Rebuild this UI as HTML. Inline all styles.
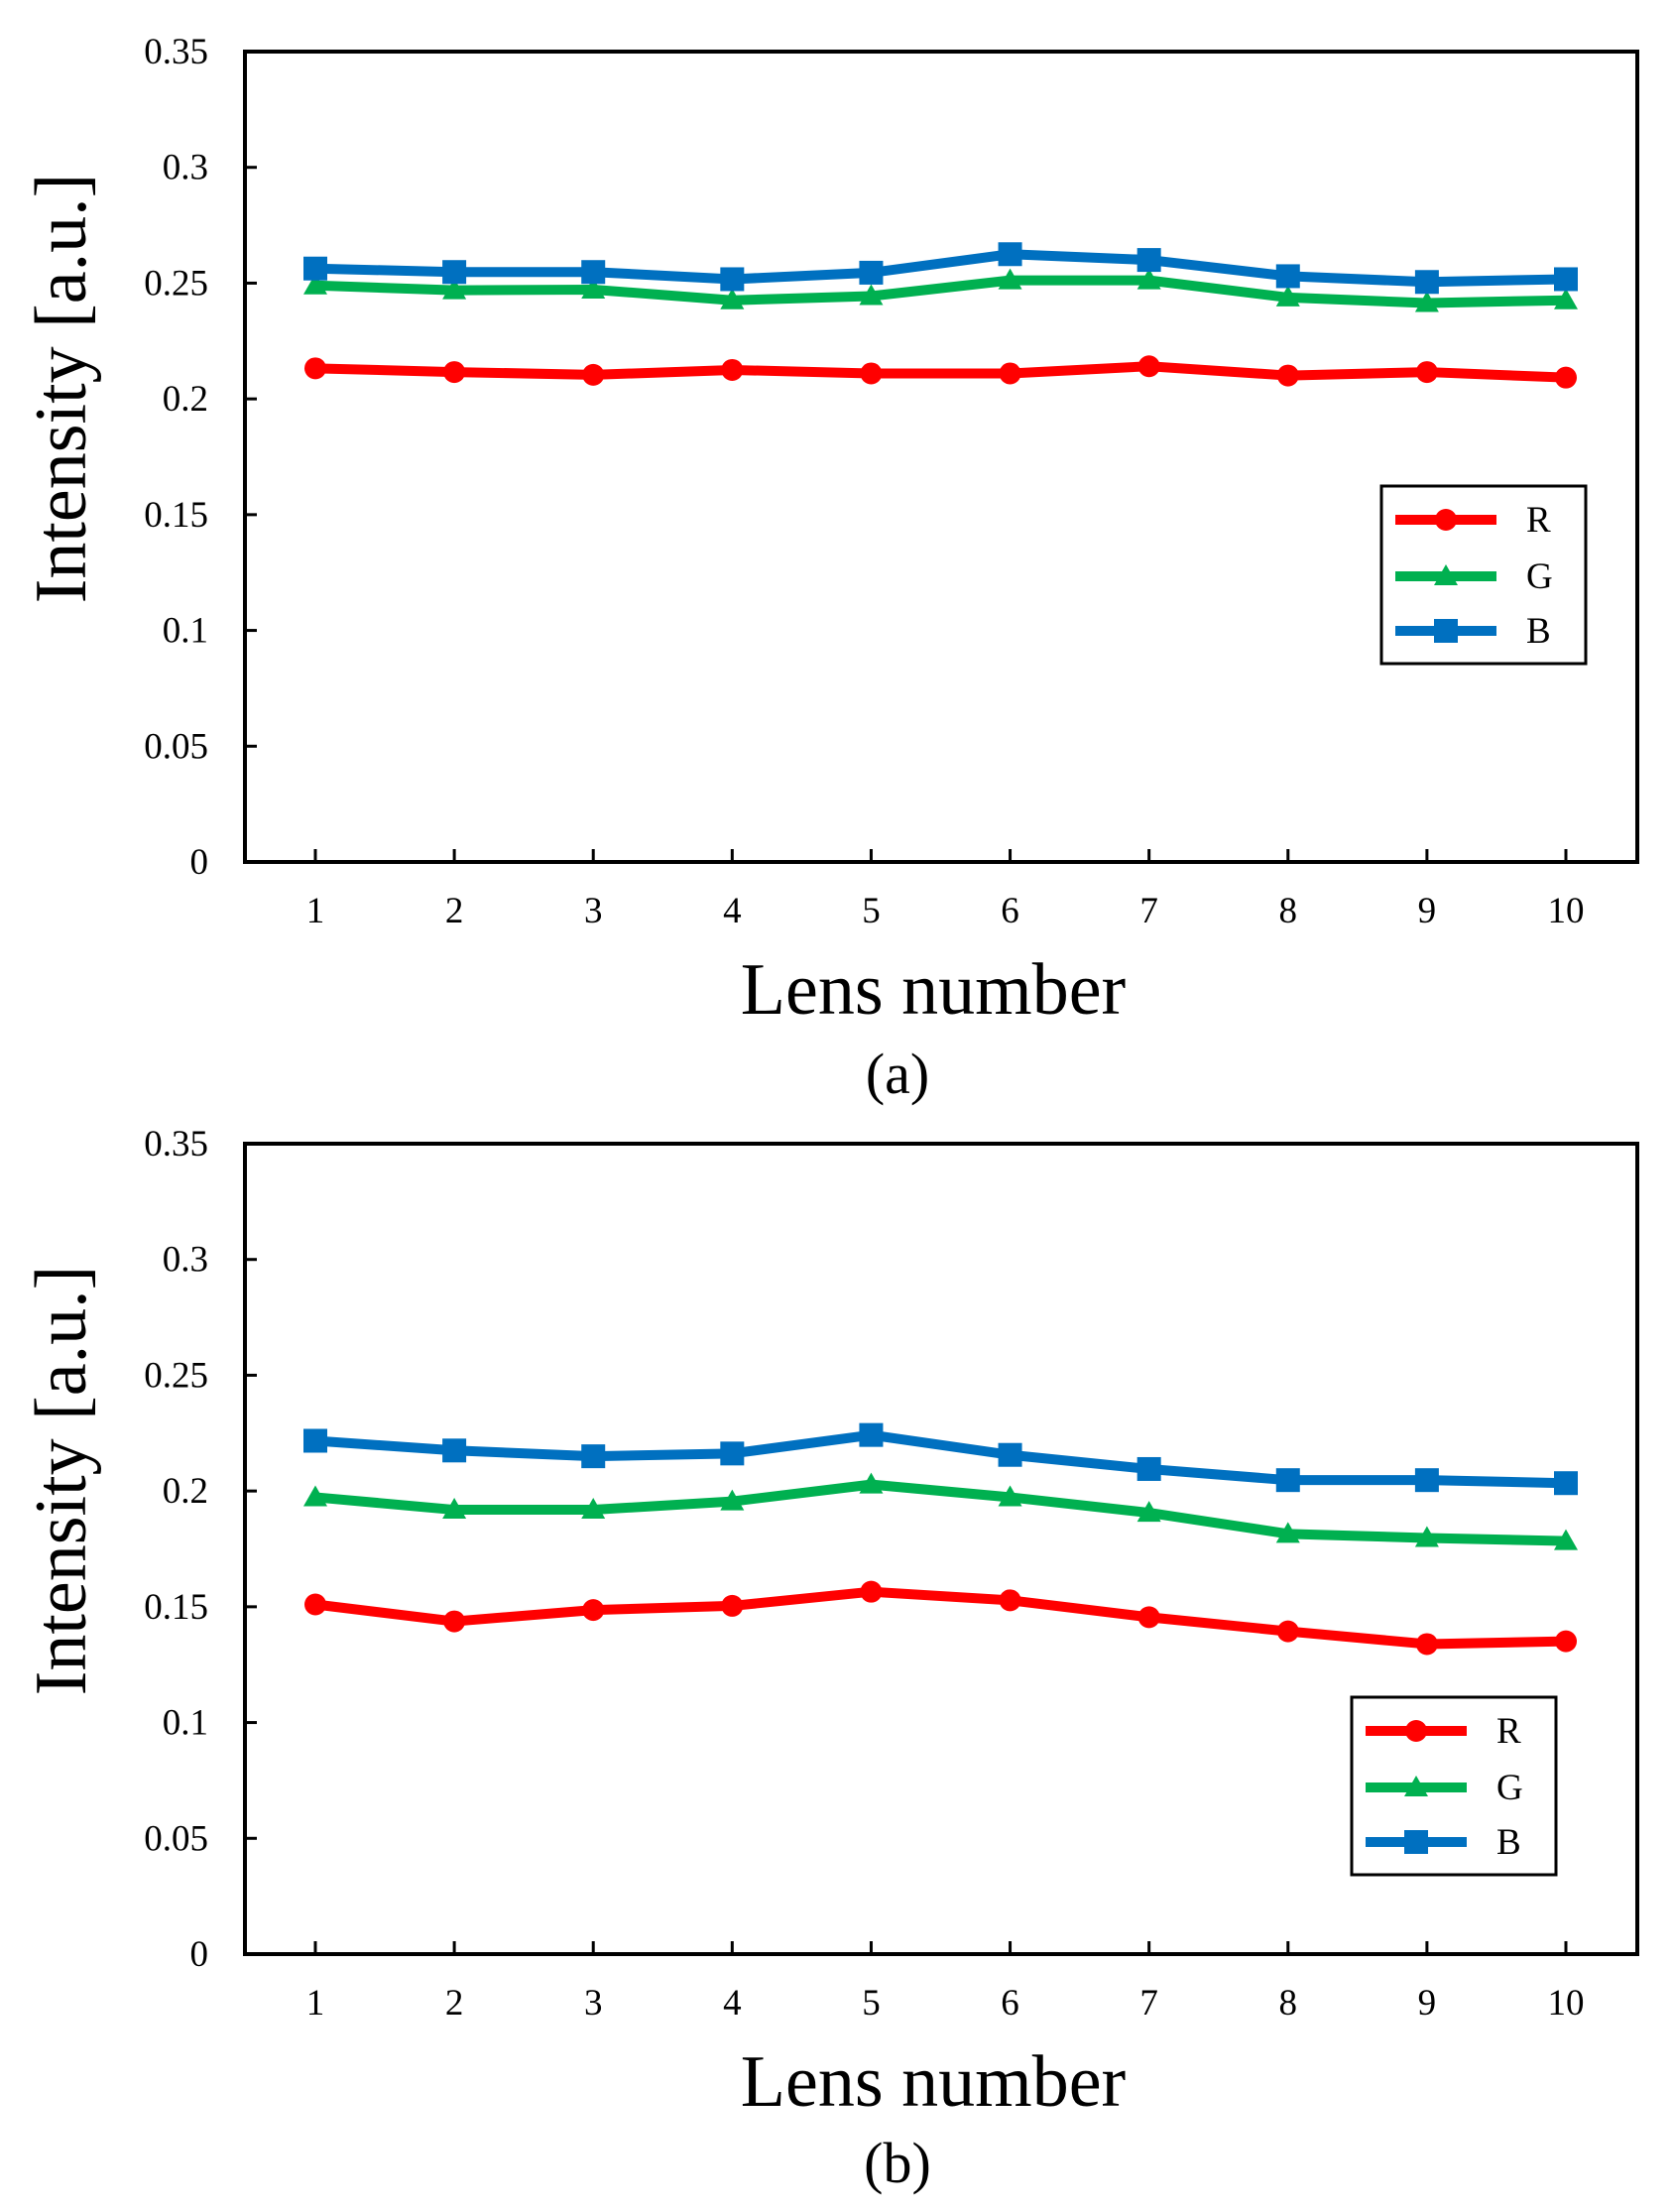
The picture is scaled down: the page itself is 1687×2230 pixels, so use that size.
<!DOCTYPE html>
<html><head><meta charset="utf-8"><style>
html,body{margin:0;padding:0;background:#fff}
svg{display:block}
text{font-family:"Liberation Serif",serif;fill:#000}
</style></head><body>
<svg id="s" width="1687" height="2230" viewBox="0 0 1687 2230" xmlns="http://www.w3.org/2000/svg"></svg>
<script>
const categories=[1,2,3,4,5,6,7,8,9,10];
const yTicks=[0,0.05,0.1,0.15,0.2,0.25,0.3,0.35];
const yTickLabels=["0","0.05","0.1","0.15","0.2","0.25","0.3","0.35"];
const aR=[0.2132,0.2116,0.2104,0.2125,0.2110,0.2110,0.2141,0.2101,0.2116,0.2092];
const aG=[0.2490,0.2469,0.2472,0.2426,0.2444,0.2512,0.2512,0.2438,0.2414,0.2426];
const aB=[0.2563,0.2548,0.2548,0.2517,0.2545,0.2625,0.2600,0.2530,0.2505,0.2517];
const bR=[0.1510,0.1437,0.1486,0.1504,0.1565,0.1528,0.1455,0.1394,0.1339,0.1351];
const bG=[0.1973,0.1919,0.1919,0.1955,0.2028,0.1973,0.1906,0.1815,0.1797,0.1784];
const bB=[0.2217,0.2175,0.2150,0.2162,0.2242,0.2156,0.2095,0.2047,0.2047,0.2034];
const seriesNames=["R","G","B"];
const NS="http://www.w3.org/2000/svg";
const svg=document.getElementById('s');
function mk(tag,attrs,parent){const e=document.createElementNS(NS,tag);for(const k in attrs)e.setAttribute(k,attrs[k]);(parent||svg).appendChild(e);return e;}
const colors=["#ff0000","#00b050","#0070c0"];
function marker(g,kind,x,y,c){
  let m;
  if(kind==="R") m=mk('circle',{cx:x,cy:y,r:11,fill:c},g);
  else if(kind==="G") m=mk('polygon',{points:`${x},${y-12} ${x+12},${y+9} ${x-12},${y+9}`,fill:c},g);
  else m=mk('rect',{x:x-12,y:y-12,width:24,height:24,fill:c},g);
  return m;
}
function chart(id,top,bottom,data,legX,legY,xTitleY,capY,cap){
  const left=247,right=1651;
  const X=i=>318+(1579-318)*(i-1)/9;
  const Y=v=>bottom-(bottom-top)*v/0.35;
  const g=mk('g',{});
  
  
  yTicks.forEach((t,i)=>{
    const y=Y(t);
    const tk=mk('line',{x1:left,x2:left+12,y1:y,y2:y,stroke:'#000','stroke-width':3},g);
    
    
    const tl=mk('text',{x:210,y:y+12,'text-anchor':'end','font-size':37},g);
    tl.textContent=yTickLabels[i];
    
    
  });
  categories.forEach(c=>{
    const x=X(c);
    const tk=mk('line',{x1:x,x2:x,y1:bottom,y2:bottom-13,stroke:'#000','stroke-width':3},g);
    
    
    const tl=mk('text',{x:x,y:bottom+61,'text-anchor':'middle','font-size':37},g);
    tl.textContent=String(c);
    
    
  });
  const fr=mk('rect',{x:left,y:top,width:right-left,height:bottom-top,fill:'none',stroke:'#000','stroke-width':4},g);
  
  
  data.forEach((vals,si)=>{
    const sg=mk('g',{},g);
    
    
    const pts=vals.map((v,i)=>X(categories[i])+','+Y(v)).join(' ');
    const pl=mk('polyline',{points:pts,fill:'none',stroke:colors[si],'stroke-width':10,'stroke-linejoin':'round'},sg);
    
    
    vals.forEach((v,i)=>{
      const m=marker(sg,seriesNames[si],X(categories[i]),Y(v),colors[si]);
      
      
    });
  });
  const lg=mk('g',{},g);
  
  
  mk('rect',{x:legX,y:legY,width:206,height:179,fill:'#fff',stroke:'#000','stroke-width':3},lg);
  [34,91,146].forEach((dy,si)=>{
    const e=mk('g',{},lg);
    
    
    mk('line',{x1:legX+14,x2:legX+116,y1:legY+dy,y2:legY+dy,stroke:colors[si],'stroke-width':10},e);
    marker(e,seriesNames[si],legX+65,legY+dy,colors[si]);
    const t=mk('text',{x:legX+146,y:legY+dy+12,'font-size':37},e);
    t.textContent=seriesNames[si];
  });
  const yt=mk('text',{x:0,y:0,'font-size':74,'text-anchor':'middle',transform:`translate(86,${(top+bottom)/2-69}) rotate(-90)`},g);
  yt.textContent="Intensity [a.u.]";
  
  
  const xt=mk('text',{x:941,y:xTitleY,'font-size':74,'text-anchor':'middle'},g);
  xt.textContent="Lens number";
  
  
  const ct=mk('text',{x:905,y:capY,'font-size':58,'text-anchor':'middle'},g);
  ct.textContent=cap;
  
  
}
chart('chart-a',52,869,[aR,aG,aB],1393,490,1022,1102,"(a)");
chart('chart-b',1153,1970,[bR,bG,bB],1363,1711,2123,2200,"(b)");
</script>
</body></html>
